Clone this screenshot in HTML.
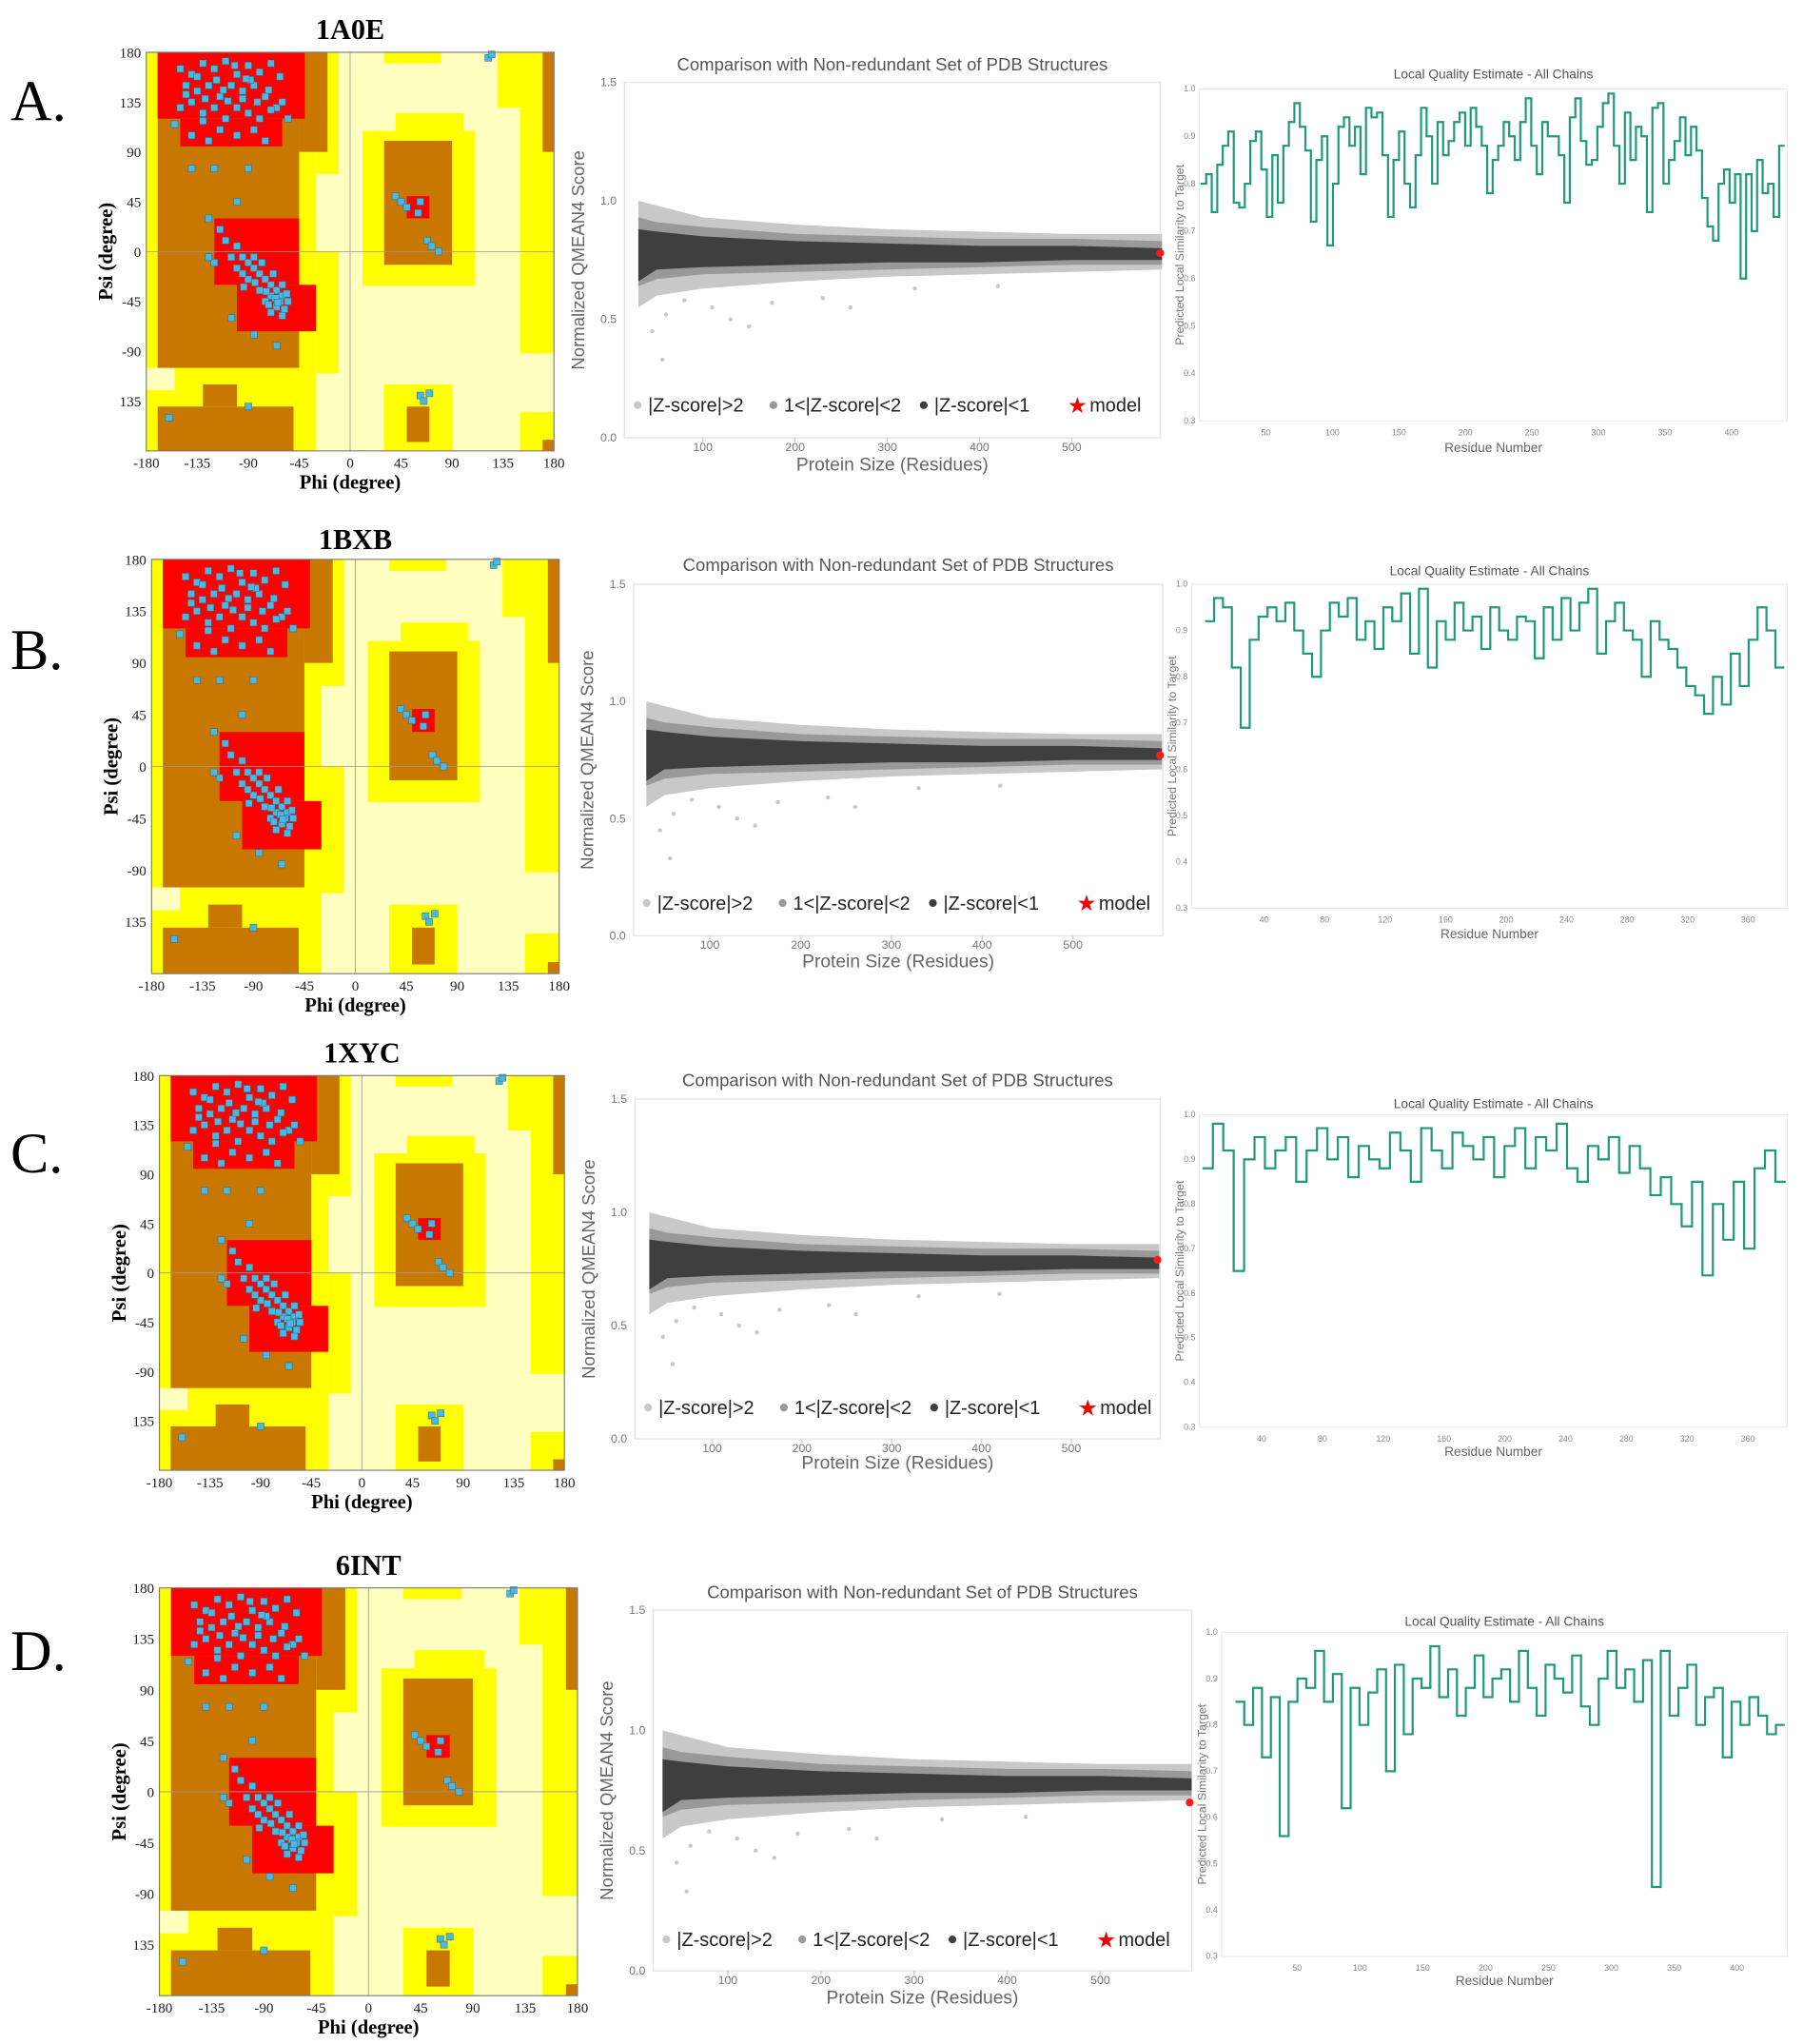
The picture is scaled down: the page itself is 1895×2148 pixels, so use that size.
<!DOCTYPE html>
<html><head><meta charset="utf-8"><style>
html,body{margin:0;padding:0;background:#fff;}
svg{display:block;}
</style></head><body>
<svg id="fig" xmlns="http://www.w3.org/2000/svg" width="1895" height="2148" viewBox="0 0 1380 1564" preserveAspectRatio="none">
<rect x="0" y="0" width="1380" height="1564" fill="#fff"/>
</svg>
<script>
// ---------- DATA ----------
const panelLetters = ["A.", "B.", "C.", "D."];
const panelTitles = ["1A0E", "1BXB", "1XYC", "6INT"];
const ramaTicks = [180, 135, 90, 45, 0, -45, -90, -135];
const ramaXTicks = [-180, -135, -90, -45, 0, 45, 90, 135, 180];
// Ramachandran regions [phi1, phi2, psi1, psi2]
const yellowRegions = [[-180,-30,-180,180],[-30,-10,-110,180],[11,110,-31,109],[40,100,109,125],[30,90,-180,-120],[30,80,170,180],[150,180,-92,180],[130,150,130,180],[150,180,-180,-145]];
const paleRegions = [[-30,0,0,70],[-180,-155,-125,-105]];
const brownRegions = [[-170,-45,-105,180],[-45,-20,90,180],[-170,-50,-180,-140],[-130,-100,-140,-120],[30,90,-12,100],[170,180,90,180],[170,180,-180,-170]];
const brownPRegions = [[50,70,-172,-140]];
const redRegions = [[-170,-40,120,180],[-150,-60,95,120],[-120,-45,-30,30],[-100,-30,-72,-30],[50,70,30,50]];
const ramaPhi = [-150,-140,-130,-120,-110,-100,-90,-80,-70,-145,-135,-125,-115,-105,-95,-85,-75,-65,-150,-140,-130,-120,-110,-100,-90,-80,-70,-60,-55,-155,-140,-125,-115,-100,-85,-75,-130,-95,-118,-88,
 -110,-100,-95,-90,-85,-80,-75,-70,-65,-60,-55,-60,-70,-75,-65,-80,-90,-100,-105,-85,-95,-68,-58,-62,-72,-120,-125,-78,
 -140,-120,-90,-100,-125,-115,-105,-85,-65,-160,-90,40,45,50,60,62,68,72,78,122,125,62,65,70,
 -145,-135,-112,-102,-92,-72,-62,-128,-108,-82,-66,-74,-84,-94,-64,-56,-70,-60];
const ramaPsi = [165,160,170,165,172,160,168,162,170,150,145,150,140,150,145,150,140,130,130,135,125,130,120,130,125,120,128,135,120,115,105,100,110,105,110,100,118,138,155,155,
 10,5,-5,-10,-15,-20,-25,-30,-35,-40,-45,-30,-40,-45,-50,-35,-25,-15,-5,-5,-20,-20,-52,-45,-48,-10,-5,-10,
 75,75,75,45,30,20,-60,-75,-85,-150,-140,50,45,40,35,45,10,5,0,175,178,-130,-135,-128,
 142,158,146,168,156,146,158,138,136,135,-42,-36,-28,-32,-46,-38,-55,-58];
// QMEAN reference bands (protein size vs score)
const bandX = [30, 50, 100, 200, 300, 400, 500, 598];
const lightHi = [1.00, 0.98, 0.93, 0.90, 0.88, 0.87, 0.86, 0.86];
const lightLo = [0.55, 0.60, 0.63, 0.66, 0.68, 0.69, 0.70, 0.71];
const midHi = [0.93, 0.91, 0.89, 0.86, 0.85, 0.84, 0.84, 0.83];
const midLo = [0.64, 0.67, 0.69, 0.70, 0.71, 0.72, 0.73, 0.73];
const darkHi = [0.88, 0.87, 0.85, 0.83, 0.82, 0.81, 0.81, 0.80];
const darkLo = [0.66, 0.71, 0.72, 0.73, 0.74, 0.74, 0.75, 0.75];
const outlierX = [45, 60, 80, 110, 130, 150, 175, 230, 260, 330, 420, 56];
const outlierY = [0.45, 0.52, 0.58, 0.55, 0.50, 0.47, 0.57, 0.59, 0.55, 0.63, 0.64, 0.33];
const modelSize = [596, 596, 596, 596];
const modelScore = [0.78, 0.77, 0.79, 0.70];
const qTicks = [0, 0.5, 1.0, 1.5];
const qXTicks = [100, 200, 300, 400, 500];
// Local quality series
const localA = [0.80,0.82,0.74,0.84,0.88,0.91,0.76,0.75,0.80,0.89,0.91,0.83,0.73,0.86,0.76,0.88,0.93,0.97,0.92,0.87,0.72,0.85,0.90,0.67,0.80,0.92,0.94,0.88,0.92,0.82,0.96,0.94,0.95,0.86,0.73,0.85,0.91,0.80,0.75,0.86,0.96,0.90,0.80,0.93,0.86,0.89,0.93,0.95,0.88,0.96,0.92,0.88,0.78,0.85,0.88,0.93,0.90,0.85,0.93,0.98,0.88,0.82,0.93,0.90,0.90,0.86,0.76,0.94,0.98,0.89,0.84,0.85,0.92,0.97,0.99,0.88,0.80,0.95,0.85,0.92,0.90,0.74,0.96,0.97,0.80,0.85,0.89,0.94,0.86,0.92,0.87,0.77,0.71,0.68,0.80,0.83,0.76,0.82,0.60,0.82,0.70,0.85,0.78,0.80,0.73,0.88];
const localB = [0.92,0.97,0.95,0.82,0.69,0.88,0.93,0.95,0.92,0.96,0.90,0.85,0.80,0.90,0.96,0.93,0.97,0.88,0.92,0.86,0.95,0.92,0.98,0.85,0.99,0.82,0.92,0.88,0.96,0.90,0.93,0.86,0.95,0.90,0.88,0.93,0.92,0.84,0.95,0.88,0.97,0.90,0.96,0.99,0.85,0.92,0.96,0.90,0.88,0.80,0.92,0.88,0.86,0.82,0.78,0.76,0.72,0.80,0.74,0.85,0.78,0.88,0.95,0.90,0.82];
const localC = [0.88,0.98,0.92,0.65,0.90,0.95,0.88,0.92,0.95,0.85,0.92,0.97,0.90,0.95,0.86,0.93,0.90,0.88,0.96,0.92,0.85,0.97,0.92,0.88,0.96,0.93,0.90,0.95,0.86,0.93,0.97,0.88,0.95,0.92,0.98,0.88,0.85,0.93,0.90,0.95,0.87,0.93,0.88,0.82,0.86,0.80,0.75,0.85,0.64,0.80,0.72,0.85,0.70,0.88,0.92,0.85];
const localD = [0.85,0.80,0.88,0.73,0.86,0.56,0.85,0.90,0.88,0.96,0.85,0.91,0.62,0.88,0.80,0.87,0.92,0.70,0.93,0.78,0.90,0.88,0.97,0.86,0.92,0.82,0.88,0.95,0.86,0.90,0.92,0.85,0.96,0.88,0.82,0.93,0.90,0.87,0.95,0.84,0.80,0.90,0.96,0.88,0.92,0.85,0.94,0.45,0.96,0.82,0.88,0.93,0.80,0.86,0.88,0.73,0.85,0.80,0.86,0.82,0.78,0.80];
const localSeries = [localA, localB, localC, localD];
const localStart = [1, 1, 1, 1];
const localEnd = [440, 384, 385, 438];
const localXTicksA = [50,100,150,200,250,300,350,400];
const localXTicksB = [40,80,120,160,200,240,280,320,360];
const localXTicksD = [50,100,150,200,250,300,350,400];
const localXTicks = [localXTicksA, localXTicksB, localXTicksB, localXTicksD];
const localDomains = [[0,442],[-8,386],[-1,386],[-10,440]];
const localYTicks = [0.3,0.4,0.5,0.6,0.7,0.8,0.9,1.0];
const qDomains = [[15,596],[16,599],[14,599],[20,598]];

// ---------- LAYOUT ----------
const rows = [
 {ly:92, rama:[112,40,424,345], tY:30, q:[478,63,888,335], qt:54, leg:314, qxl:360, l:[918,68,1368,322], lt:60, lxl:346},
 {ly:512, rama:[116,428,428,745], tY:420, q:[485,447,890,716], qt:437, leg:695, qxl:740, l:[912,447,1368,695], lt:440, lxl:718},
 {ly:897, rama:[122,823,432,1125], tY:813, q:[486,841,888,1101], qt:831, leg:1081, qxl:1124, l:[918,853,1368,1092], lt:848, lxl:1114},
 {ly:1278, rama:[122,1215,442,1527], tY:1205, q:[500,1232,912,1508], qt:1223, leg:1488, qxl:1533, l:[935,1249,1368,1497], lt:1244, lxl:1519}
];
const NS = "http://www.w3.org/2000/svg";
const svg = document.getElementById("fig");
function el(tag, attrs, parent, text) {
  const e = document.createElementNS(NS, tag);
  for (const k in attrs) e.setAttribute(k, attrs[k]);
  if (text !== undefined) e.textContent = text;
  (parent || svg).appendChild(e);
  return e;
}
const serif = '"Liberation Serif", serif';
const sans = '"Liberation Sans", sans-serif';

rows.forEach((r, i) => {
  const g = el("g", {});
  
  
  const lt = el("text", {x:8, y:r.ly, "font-family":serif, "font-size":44, fill:"#000"}, g, panelLetters[i]);
  
  

  // ---- Ramachandran ----
  const [x0,y0,x1,y1] = r.rama;
  const px = phi => x0 + (phi + 180) / 360 * (x1 - x0);
  const py = psi => y0 + (180 - psi) / 360 * (y1 - y0);
  const rg = el("g", {}, g);
  
  
  el("rect", {x:x0, y:y0, width:x1-x0, height:y1-y0, fill:"#ffffc0"}, rg);
  const drawRegions = (list, color) => list.forEach(a => {
    const rr = el("rect", {x:px(a[0]), y:py(a[3]), width:px(a[1])-px(a[0]), height:py(a[2])-py(a[3]), fill:color}, rg);
    
    
  });
  drawRegions(yellowRegions, "#ffff00");
  drawRegions(paleRegions, "#ffffc0");
  drawRegions(brownRegions, "#c87800");
  drawRegions(brownPRegions, "#c87800");
  drawRegions(redRegions, "#ff0000");
  el("line", {x1:px(0), x2:px(0), y1:y0, y2:y1, stroke:"#999", "stroke-width":0.6}, rg);
  el("line", {x1:x0, x2:x1, y1:py(0), y2:py(0), stroke:"#999", "stroke-width":0.6}, rg);
  ramaPhi.forEach((p, k) => {
    const c = el("rect", {x:px(p)-2.6, y:py(ramaPsi[k])-2.6, width:5.2, height:5.2, fill:"#4ab8e0", stroke:"#2a7090", "stroke-width":0.4}, rg);
    
    
  });
  el("rect", {x:x0, y:y0, width:x1-x0, height:y1-y0, fill:"none", stroke:"#777", "stroke-width":0.8}, rg);
  ramaTicks.forEach(t => {
    el("text", {x:x0-4, y:py(t)+4, "text-anchor":"end", "font-family":serif, "font-size":11, fill:"#222"}, rg, String(t === -135 ? "135" : t));
  });
  ramaXTicks.forEach(t => {
    el("text", {x:px(t), y:y1+13, "text-anchor":"middle", "font-family":serif, "font-size":11, fill:"#222"}, rg, String(t));
  });
  const ttl = el("text", {x:(x0+x1)/2, y:r.tY, "text-anchor":"middle", "font-family":serif, "font-size":22, "font-weight":"bold", fill:"#000"}, rg, panelTitles[i]);
  
  
  el("text", {x:(x0+x1)/2, y:y1+29, "text-anchor":"middle", "font-family":serif, "font-size":15, "font-weight":"bold", fill:"#000"}, rg, "Phi (degree)");
  const yl = (y0+y1)/2;
  el("text", {x:0, y:0, transform:`translate(${x0-26},${yl}) rotate(-90)`, "text-anchor":"middle", "font-family":serif, "font-size":15, "font-weight":"bold", fill:"#000"}, rg, "Psi (degree)");

  // ---- QMEAN comparison ----
  const [qx0,qy0,qx1,qy1] = r.q;
  const [qd0,qd1] = qDomains[i];
  const qx = s => qx0 + (s - qd0) / (qd1 - qd0) * (qx1 - qx0);
  const qy = v => qy1 - v / 1.5 * (qy1 - qy0);
  const qg = el("g", {}, g);
  
  
  el("rect", {x:qx0, y:qy0, width:qx1-qx0, height:qy1-qy0, fill:"#fff", stroke:"#e4e4e4", "stroke-width":1}, qg);
  qXTicks.forEach(t => el("line", {x1:qx(t), x2:qx(t), y1:qy1, y2:qy1+3, stroke:"#ccc"}, qg));
  const band = (hi, lo, color, name) => {
    let d = "M" + bandX.map((s, k) => qx(s) + "," + qy(hi[k])).join("L");
    d += "L" + bandX.slice().reverse().map((s, k) => qx(s) + "," + qy(lo[bandX.length-1-k])).join("L") + "Z";
    const p = el("path", {d:d, fill:color}, qg);
    
    
  };
  band(lightHi, lightLo, "#c8c8c8", "band-z-gt-2");
  band(midHi, midLo, "#999999", "band-z-1-2");
  band(darkHi, darkLo, "#3f3f3f", "band-z-lt-1");
  outlierX.forEach((s, k) => {
    const c = el("circle", {cx:qx(s), cy:qy(outlierY[k]), r:1.6, fill:"#c8c8c8"}, qg);
    
    
  });
  const mx = qx(modelSize[i]), my = qy(modelScore[i]);
  const mk = el("circle", {cx:mx, cy:my, r:3, fill:"#ff1a1a"}, qg);
  
  
  qTicks.forEach(t => el("text", {x:qx0-6, y:qy(t)+3, "text-anchor":"end", "font-family":sans, "font-size":9, fill:"#777"}, qg, t.toFixed(1)));
  qXTicks.forEach(t => el("text", {x:qx(t), y:qy1+10, "text-anchor":"middle", "font-family":sans, "font-size":9, fill:"#777"}, qg, String(t)));
  el("text", {x:(qx0+qx1)/2, y:r.qt, "text-anchor":"middle", "font-family":sans, "font-size":13.5, fill:"#555"}, qg, "Comparison with Non-redundant Set of PDB Structures");
  el("text", {x:(qx0+qx1)/2, y:r.qxl, "text-anchor":"middle", "font-family":sans, "font-size":14, fill:"#666"}, qg, "Protein Size (Residues)");
  el("text", {x:0, y:0, transform:`translate(${qx0-31},${(qy0+qy1)/2}) rotate(-90)`, "text-anchor":"middle", "font-family":sans, "font-size":13.5, fill:"#666"}, qg, "Normalized QMEAN4 Score");
  const lg = el("g", {}, qg);
  
  
  const legY = r.leg;
  const items = [[qx0+10,"#c8c8c8","|Z-score|>2"],[qx0+114,"#999","1<|Z-score|<2"],[qx0+229,"#3f3f3f","|Z-score|<1"]];
  items.forEach(it => {
    el("circle", {cx:it[0], cy:legY-4, r:3, fill:it[1]}, lg);
    const t = el("text", {x:it[0]+8, y:legY+1, "font-family":sans, "font-size":14.5, fill:"#222"}, lg, it[2]);
    
    
  });
  el("text", {x:qx0+339, y:legY+2, "font-family":"DejaVu Sans, sans-serif", "font-size":17, fill:"#ee0000"}, lg, "★");
  el("text", {x:qx0+356, y:legY+1, "font-family":sans, "font-size":14.5, fill:"#222"}, lg, "model");

  // ---- Local quality ----
  const [lx0,ly0,lx1,ly1] = r.l;
  const [ld0,ld1] = localDomains[i];
  const lx = s => lx0 + (s - ld0) / (ld1 - ld0) * (lx1 - lx0);
  const lyf = v => ly1 - (v - 0.3) / 0.7 * (ly1 - ly0);
  const lq = el("g", {}, g);
  
  
  el("rect", {x:lx0, y:ly0, width:lx1-lx0, height:ly1-ly0, fill:"#fff", stroke:"#eaeaea", "stroke-width":0.8}, lq);
  const ser = localSeries[i];
  const n = ser.length;
  const step = (localEnd[i] - localStart[i]) / n;
  let d = "";
  ser.forEach((v, k) => {
    const xa = lx(localStart[i] + k * step), xb = lx(localStart[i] + (k + 1) * step);
    d += (k === 0 ? "M" : "L") + xa + "," + lyf(v) + "L" + xb + "," + lyf(v);
  });
  const line = el("path", {d:d, fill:"none", stroke:"#1f9a78", "stroke-width":1.6}, lq);
  
  
  localYTicks.forEach(t => el("text", {x:lx0-3, y:lyf(t)+2, "text-anchor":"end", "font-family":sans, "font-size":6.5, fill:"#888"}, lq, t.toFixed(1)));
  localXTicks[i].forEach(t => el("text", {x:lx(t), y:ly1+11, "text-anchor":"middle", "font-family":sans, "font-size":6.5, fill:"#888"}, lq, String(t)));
  el("text", {x:(lx0+lx1)/2, y:r.lt, "text-anchor":"middle", "font-family":sans, "font-size":10, fill:"#555"}, lq, "Local Quality Estimate - All Chains");
  el("text", {x:(lx0+lx1)/2, y:r.lxl, "text-anchor":"middle", "font-family":sans, "font-size":10, fill:"#666"}, lq, "Residue Number");
  el("text", {x:0, y:0, transform:`translate(${lx0-12},${(ly0+ly1)/2}) rotate(-90)`, "text-anchor":"middle", "font-family":sans, "font-size":9, fill:"#777"}, lq, "Predicted Local Similarity to Target");
});
</script>
</body></html>
